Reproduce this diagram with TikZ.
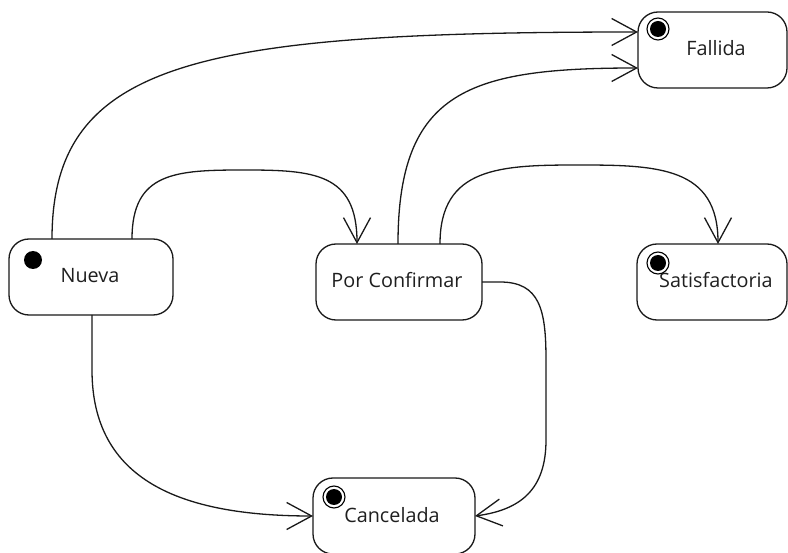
\documentclass[tikz,border=0pt]{standalone}
\usepackage{fontspec}
\setmainfont{Open Sans}
\usetikzlibrary{arrows.meta,calc}
\begin{document}
\begin{tikzpicture}[x=1pt,y=-1pt,
  state/.style={draw=black!90, line width=1.3pt, rounded corners=20pt,
    minimum height=76pt, inner sep=0pt, outer sep=0pt},
  statename/.style={anchor=base, inner sep=0pt, text=black!88,
    font=\fontsize{19.8}{23}\selectfont},
  flow/.style={draw=black!90, line width=1.3pt,
    -{Straight Barb[length=25pt,width=27pt]}},
  initdot/.style={fill=black},
  finalring/.style={draw=black, line width=1.1pt}
]
\useasboundingbox (0,0) rectangle (788,553);

% states
\node[state, minimum width=164pt] (nueva)   at (91,277)   {};
\node[state, minimum width=166pt] (porconf) at (399,282)  {};
\node[state, minimum width=149pt] (fallida) at (712.5,50) {};
\node[state, minimum width=150pt] (satisf)  at (712,282)  {};
\node[state, minimum width=162pt] (cancel)  at (394,516)  {};

% state names
\node[statename] (nueva-t)   at ($(nueva.center)+(-1,6)$)   {Nueva};
\node[statename] (porconf-t) at ($(porconf.center)+(-2,6)$) {Por Confirmar};
\node[statename] (fallida-t) at ($(fallida.center)+(3.5,6)$) {Fallida};
\node[statename] (satisf-t)  at ($(satisf.center)+(4,6)$)   {Satisfactoria};
\node[statename] (cancel-t)  at ($(cancel.center)+(-2,6)$)  {Cancelada};

% initial marker
\fill[initdot] ($(nueva.north west)+(24,21)$) circle[radius=9pt];

% final markers
\foreach \s/\dx/\dy in {fallida/20/17, satisf/21/19, cancel/21/19}{
  \fill[initdot] ($(\s.north west)+(\dx,\dy)$) circle[radius=8pt];
  \draw[finalring] ($(\s.north west)+(\dx,\dy)$) circle[radius=11pt];
}

% waypoints of the arched transitions
\coordinate (arcA) at (244.5,170);
\coordinate (arcB) at (579,165);
\coordinate (sideA) at (546,360);
\coordinate (sideB) at (546,440);

% transitions
\draw[flow] ($(nueva.north west)+(43,0)$)
  .. controls +(0,-179) and +(-438,0) .. ($(fallida.west)+(0,-18)$);
\draw[flow] ($(nueva.north west)+(123,0)$)
  .. controls +(0,-67) and +(-69,0) .. (arcA)
  .. controls +(69,0) and +(0,-71) .. ($(porconf.north west)+(41,0)$);
\draw[flow] ($(porconf.north west)+(82,0)$)
  .. controls +(0,-154) and +(-168,0) .. ($(fallida.west)+(0,18)$);
\draw[flow] ($(porconf.north west)+(124,0)$)
  .. controls +(0,-77) and +(-79,0) .. (arcB)
  .. controls +(79,0) and +(0,-77) .. ($(satisf.north)+(6,0)$);
\draw[flow] (porconf.east) -- ++(18,0)
  .. controls +(40,0) and +(0,-50) .. (sideA) -- (sideB)
  .. controls +(0,50) and +(45,-6) .. (cancel.east);
\draw[flow] ($(nueva.south west)+(83,0)$) -- ++(0,55)
  .. controls +(0,110) and +(-133,0) .. (cancel.west);
\end{tikzpicture}
\end{document}
